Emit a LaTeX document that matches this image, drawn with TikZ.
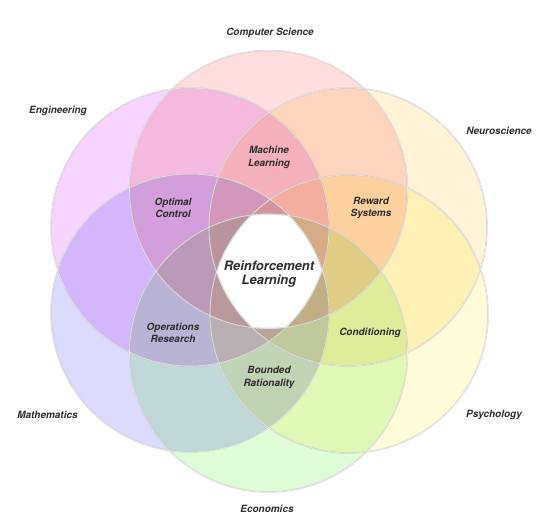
\documentclass[tikz,border=0pt]{standalone}
\usepackage{fontspec}
\setmainfont{TeX Gyre Heros}
\definecolor{cCS}{HTML}{FFDEDF}
\definecolor{cEng}{HTML}{F5D5FD}
\definecolor{cNeu}{HTML}{FFF4D8}
\definecolor{cMat}{HTML}{DCDAFD}
\definecolor{cPsy}{HTML}{FEFCD8}
\definecolor{cEco}{HTML}{E0FBD8}
\definecolor{txt}{HTML}{2E2E2E}
\definecolor{ringc}{HTML}{BEBEBE}
\begin{document}
\begin{tikzpicture}[x=1bp,y=-1bp,
  lab/.style={font=\bfseries\itshape\fontsize{10}{12.3}\selectfont, text=txt, align=center, inner sep=0pt},
  biglab/.style={font=\bfseries\itshape\fontsize{13}{14}\selectfont, text=txt, align=center, inner sep=0pt},
  ring/.style={draw=ringc, line width=1.5bp, draw opacity=0.6},
  ringhi/.style={draw=white, line width=0.6bp, draw opacity=0.55}]
\useasboundingbox (0,0) rectangle (550,523);
\fill[white] (0,0) rectangle (550,523);
\def\R{139}
\coordinate (pCS)  at (268.5,189.5);
\coordinate (pEng) at (190,227);
\coordinate (pNeu) at (348,227);
\coordinate (pMat) at (190,313);
\coordinate (pPsy) at (349,314);
\coordinate (pEco) at (268.5,353);
% fills, multiplied
\begin{scope}[blend mode=multiply]
  \fill[cCS]  (pCS)  circle[radius=\R];
  \fill[cEng] (pEng) circle[radius=\R];
  \fill[cNeu] (pNeu) circle[radius=\R];
  \fill[cMat] (pMat) circle[radius=\R];
  \fill[cPsy] (pPsy) circle[radius=\R];
  \fill[cEco] (pEco) circle[radius=\R];
\end{scope}
% common core in white
\begin{scope}
  \clip (pCS)  circle[radius=\R];
  \clip (pEng) circle[radius=\R];
  \clip (pNeu) circle[radius=\R];
  \clip (pMat) circle[radius=\R];
  \clip (pPsy) circle[radius=\R];
  \fill[white] (pEco) circle[radius=\R];
\end{scope}
% outlines
\foreach \p in {pCS,pEng,pNeu,pMat,pPsy,pEco}
  \draw[ring] (\p) circle[radius=\R];
\foreach \p in {pCS,pEng,pNeu,pMat,pPsy,pEco}
  \draw[ringhi] (\p) circle[radius=\R];
% outer labels
\node[lab] (tCS)  at (270,33)  {Computer Science};
\node[lab] (tEng) at (58,111)  {Engineering};
\node[lab] (tNeu) at (499,131) {Neuroscience};
\node[lab] (tMat) at (47.5,415) {Mathematics};
\node[lab] (tPsy) at (494,415) {Psychology};
\node[lab] (tEco) at (267,509) {Economics};
% inner labels
\node[lab] (tML) at (269,157.5) {Machine\\Learning};
\node[lab] (tOC) at (173,208) {Optimal\\Control};
\node[lab] (tRS) at (371,208) {Reward\\Systems};
\node[lab] (tOR) at (173,333) {Operations\\Research};
\node[lab] (tCo) at (370,333) {Conditioning};
\node[lab] (tBR) at (269,377.5) {Bounded\\Rationality};
\node[biglab] (tRL) at (269,274) {Reinforcement\\Learning};
\end{tikzpicture}
\end{document}
